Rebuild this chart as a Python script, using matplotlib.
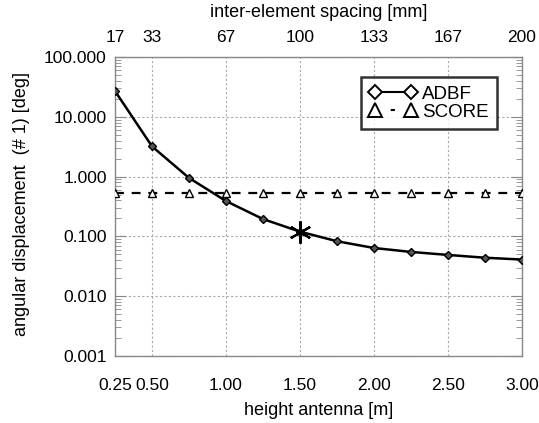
import matplotlib
matplotlib.use("Agg")
import matplotlib.pyplot as plt
from matplotlib.lines import Line2D
from matplotlib.ticker import NullFormatter, LogLocator

plt.rcParams['font.family'] = ['Liberation Sans', 'DejaVu Sans']

height = [0.25, 0.5, 0.75, 1.0, 1.25, 1.5, 1.75, 2.0, 2.25, 2.5, 2.75, 3.0]
adbf = [27.0, 3.2, 0.95, 0.39, 0.195, 0.12, 0.083, 0.064, 0.055, 0.049, 0.044, 0.041]
score = [0.54] * 12
highlight_height = 1.5

xticks = [0.25, 0.5, 1.0, 1.5, 2.0, 2.5, 3.0]
xticklabels = ["0.25", "0.50", "1.00", "1.50", "2.00", "2.50", "3.00"]
top_ticklabels = ["17", "33", "67", "100", "133", "167", "200"]
yticks = [0.001, 0.01, 0.1, 1, 10, 100]
yticklabels = ["0.001", "0.010", "0.100", "1.000", "10.000", "100.000"]

fig = plt.figure(figsize=(5.39, 4.23), dpi=100)
ax = fig.add_axes([0.2134, 0.1584, 0.7551, 0.7068])

fs = 12.5
fl = 13
frame_c = '#888888'

ax.plot(height, adbf, color='black', lw=1.8, marker='D', ms=4.5,
        mfc='#555555', mec='black', mew=1.0, zorder=3)
ax.plot(height, score, color='black', lw=1.6, ls=(0, (4, 3.5)), marker='^',
        ms=5.5, mfc='white', mec='black', mew=1.0, zorder=3)
hi = height.index(highlight_height)
ax.plot([height[hi]], [adbf[hi]], ls='none', marker=(6, 2, 0), ms=16,
        mec='black', mew=1.6, zorder=4)

ax.set_yscale('log')
ax.set_xlim(0.25, 3.0)
ax.set_ylim(0.001, 100)
ax.set_xticks(xticks)
ax.set_xticklabels(xticklabels, fontsize=fs)
ax.set_yticks(yticks)
ax.set_yticklabels(yticklabels, fontsize=fs)
ax.yaxis.set_minor_locator(LogLocator(base=10, subs=range(2, 10)))
ax.yaxis.set_minor_formatter(NullFormatter())

ax.grid(True, which='major', color='#aaaaaa', ls=(0, (2, 2)), lw=0.8)
for s in ax.spines.values():
    s.set_color(frame_c)
    s.set_linewidth(1.0)
ax.tick_params(axis='y', which='both', direction='in', left=True, right=True,
               color=frame_c, pad=6)
ax.tick_params(axis='y', which='major', length=8)
ax.tick_params(axis='y', which='minor', length=4)
ax.tick_params(axis='x', which='both', direction='in', length=0, pad=16, bottom=True)

ax.set_xlabel("height antenna [m]", fontsize=fl, labelpad=6)
ax.set_ylabel("angular displacement  (# 1) [deg]", fontsize=fl)
ax.yaxis.set_label_coords(-0.208, 0.51)

ax2 = ax.twiny()
ax2.set_xlim(ax.get_xlim())
ax2.set_xticks(xticks)
ax2.set_xticklabels(top_ticklabels, fontsize=fs)
ax2.tick_params(axis='x', direction='in', length=0, pad=9)
for s in ax2.spines.values():
    s.set_visible(False)
ax2.set_xlabel("inter-element spacing [mm]", fontsize=fl, labelpad=9)

hl = 2.5
leg_fs = 13.5
lw_h = 1.5
units = (hl - 0.6) * leg_fs / lw_h
dash = 2.0
gap = 40
offset = (dash + gap) - (units / 2 - dash / 2)
handles = [
    Line2D([], [], color='black', lw=lw_h, marker='D', ms=7, mfc='white', mec='black', mew=1.4),
    Line2D([], [], color='black', lw=lw_h, ls=(offset, (dash, gap)), marker='^', ms=10,
           mfc='white', mec='black', mew=1.4),
]
leg = ax.legend(handles, ["ADBF", "SCORE"], loc='upper right', numpoints=2,
                bbox_to_anchor=(0.9386, 0.933), fontsize=leg_fs, frameon=True,
                fancybox=False, edgecolor='black', handlelength=hl,
                handletextpad=0.3, borderpad=0.45, labelspacing=0.05,
                borderaxespad=0)
leg.get_frame().set_linewidth(1.8)
leg.set_zorder(5)

fig.savefig("out.png", dpi=100)
